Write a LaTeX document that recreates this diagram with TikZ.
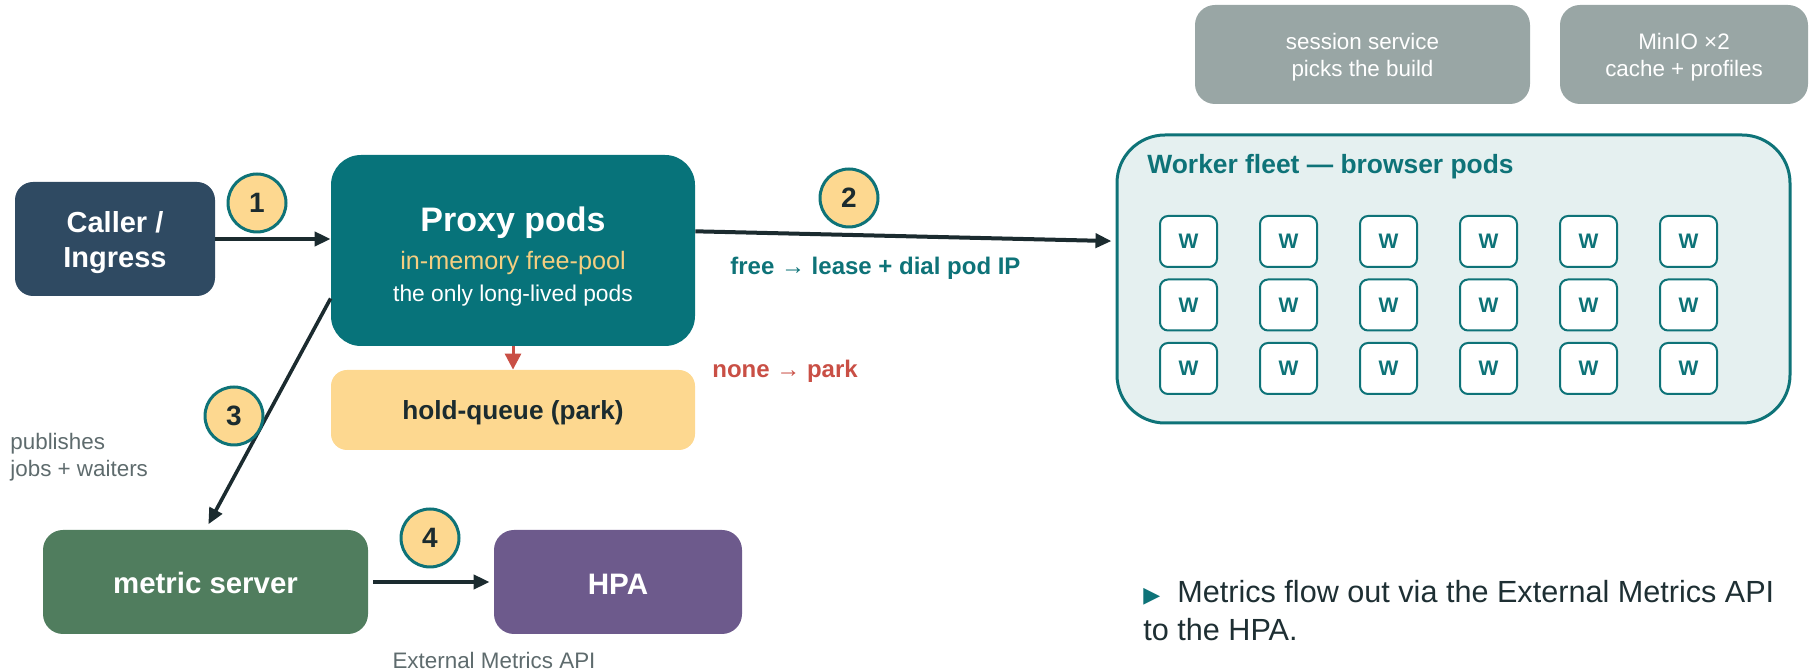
\documentclass[tikz,border=0pt]{standalone}
\usepackage{fontspec}
\setmainfont{Liberation Sans}
\newfontfamily\symfont{DejaVu Sans}
\usetikzlibrary{arrows.meta,fit,calc}

\definecolor{callerc}{HTML}{2F4A62}
\definecolor{proxyc}{HTML}{07737A}
\definecolor{poolc}{HTML}{F5CE80}
\definecolor{holdc}{HTML}{FDD890}
\definecolor{inkc}{HTML}{1B2B2F}
\definecolor{metricc}{HTML}{507D5E}
\definecolor{hpac}{HTML}{6D5A8C}
\definecolor{greyboxc}{HTML}{99A6A5}
\definecolor{fleetc}{HTML}{E5F0F0}
\definecolor{tealc}{HTML}{0E7378}
\definecolor{redc}{HTML}{C94F45}
\definecolor{mutedc}{HTML}{5E6B6D}
\definecolor{notec}{HTML}{1E2F33}

\begin{document}
\begin{tikzpicture}[x=0.5pt,y=-0.5pt,
  panel/.style={inner sep=0pt, draw=none},
  txt/.style={inner sep=0pt, anchor=base},
  ltxt/.style={inner sep=0pt, anchor=base west},
  numc/.style={circle, fill=holdc, draw=tealc, line width=1.5pt,
    minimum size=29pt, inner sep=0pt, text=inkc,
    font=\fontsize{14pt}{16pt}\selectfont\bfseries},
  wbox/.style={draw=tealc, fill=white, line width=1pt, rounded corners=4pt,
    minimum width=28.5pt, minimum height=25.5pt, inner sep=0pt, text=tealc,
    font=\fontsize{10.5pt}{12pt}\selectfont\bfseries},
  conn/.style={draw=inkc, line width=2pt, -{Triangle[length=8pt,width=7pt]}},
  redconn/.style={draw=redc, line width=1.5pt, -{Triangle[length=8pt,width=8pt]}}
]
\useasboundingbox (0,0) rectangle (1810,672);

% --- boxes ---
\node[panel, fill=callerc, rounded corners=9pt, fit={(15,182) (215,296)}] (caller) {};
\node[panel, fill=proxyc, rounded corners=15pt, fit={(331,155) (695,346)}] (proxy) {};
\node[panel, fill=holdc, rounded corners=8pt, fit={(331,370) (695,450)}] (hold) {};
\node[panel, fill=metricc, rounded corners=10pt, fit={(43,530) (368,634)}] (metric) {};
\node[panel, fill=hpac, rounded corners=10pt, fit={(494,530) (742,634)}] (hpa) {};
\node[panel, fill=greyboxc, rounded corners=10pt, fit={(1195,5) (1530,104)}] (session) {};
\node[panel, fill=greyboxc, rounded corners=10pt, fit={(1560,5) (1808,104)}] (minio) {};
\node[panel, fill=fleetc, draw=tealc, line width=1.5pt, rounded corners=24pt,
      fit={(1117,135) (1790,423)}] (fleet) {};

% --- worker pods grid ---
\foreach \r in {0,1,2} {
  \foreach \c in {0,...,5} {
    \node[wbox] (w\r\c) at (1188.5+100*\c, 241.5+63.5*\r) {W};
  }
}

% --- texts ---
\node[txt, text=white, font=\fontsize{14.5pt}{17pt}\selectfont\bfseries] (callerA) at (115,233) {Caller /};
\node[txt, text=white, font=\fontsize{14.5pt}{17pt}\selectfont\bfseries] (callerB) at (115,268) {Ingress};

\node[txt, text=white, font=\fontsize{17pt}{20pt}\selectfont\bfseries] (proxyA) at (513,232) {Proxy pods};
\node[txt, text=poolc, font=\fontsize{12.6pt}{15pt}\selectfont] (proxyB) at (513,270) {in-memory free-pool};
\node[txt, text=white, font=\fontsize{11.4pt}{14pt}\selectfont] (proxyC) at (513,302) {the only long-lived pods};

\node[txt, text=inkc, font=\fontsize{13.1pt}{16pt}\selectfont\bfseries] (holdT) at (513,420) {hold-queue (park)};
\node[txt, text=white, font=\fontsize{14.7pt}{17pt}\selectfont\bfseries] (metricT) at (205.5,594) {metric server};
\node[txt, text=white, font=\fontsize{14.8pt}{17pt}\selectfont\bfseries] (hpaT) at (618,595) {HPA};

\node[txt, text=white, font=\fontsize{11.2pt}{14pt}\selectfont] (sessA) at (1362.5,50) {session service};
\node[txt, text=white, font=\fontsize{11.2pt}{14pt}\selectfont] (sessB) at (1362.5,77) {picks the build};
\node[txt, text=white, font=\fontsize{11.2pt}{14pt}\selectfont] (minioA) at (1684,50) {MinIO ×2};
\node[txt, text=white, font=\fontsize{11.2pt}{14pt}\selectfont] (minioB) at (1684,77) {cache + profiles};

\node[ltxt, text=tealc, font=\fontsize{13.2pt}{16pt}\selectfont\bfseries] (fleetT) at (1147,174) {Worker fleet — browser pods};

\node[ltxt, text=tealc, font=\fontsize{12pt}{14pt}\selectfont\bfseries] (freeL) at (730,275) {free → lease + dial pod IP};
\node[ltxt, text=redc, font=\fontsize{12pt}{14pt}\selectfont\bfseries] (noneL) at (712,378) {none → park};

\node[ltxt, text=mutedc, font=\fontsize{11.2pt}{14pt}\selectfont] (pubA) at (10,450) {publishes};
\node[ltxt, text=mutedc, font=\fontsize{11.2pt}{14pt}\selectfont] (pubB) at (10,477) {jobs + waiters};
\node[txt, text=mutedc, font=\fontsize{11.2pt}{14pt}\selectfont] (extL) at (494,669) {External Metrics API};

% bullet note: the base anchor sits on the baseline of the last line
\node[ltxt, text=notec, font=\fontsize{15.3pt}{19pt}\selectfont, align=left] (note) at (1143,641)
  {\makebox[17pt][l]{\textcolor{tealc}{\symfont\fontsize{11pt}{12pt}\selectfont ▶}}Metrics flow out via the External Metrics API\\to the HPA.};

% --- connectors ---
\draw[conn] (caller.east) -- (caller.east -| proxy.west);
\draw[conn, shorten >=2pt]
  ($(proxy.north east)!0.4!(proxy.south east)$) -- ($(fleet.north west)!0.37!(fleet.south west)$);
\draw[conn, line width=1.8pt, shorten >=3pt]
  ($(proxy.north west)!0.75!(proxy.south west)$) -- (metric.north);
\draw[conn, shorten <=2.5pt, shorten >=2pt] (metric.east) -- (hpa.west);
\draw[redconn] (proxy.south) -- (hold.north);

% --- step markers ---
\node[numc] (n1) at (257,203) {1};
\node[numc] (n2) at (849,198) {2};
\node[numc] (n3) at (234,416) {3};
\node[numc] (n4) at (430,538) {4};
\end{tikzpicture}
\end{document}
